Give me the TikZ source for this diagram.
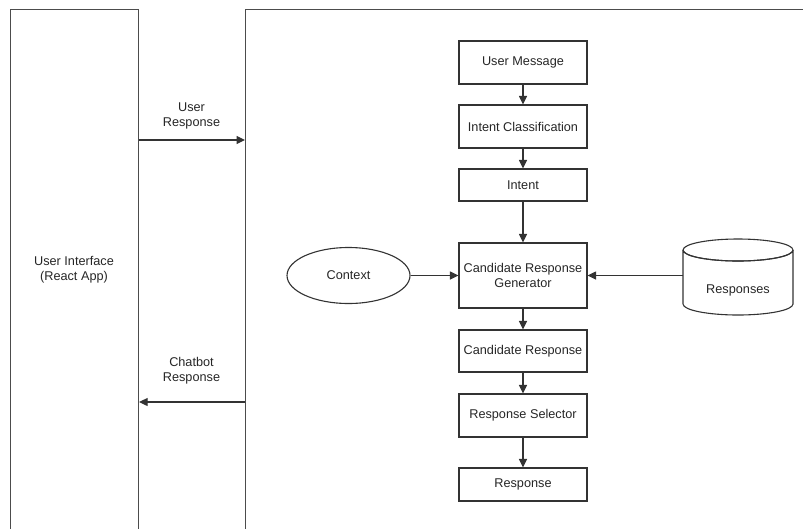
\documentclass[tikz,border=0pt]{standalone}
\usepackage{fontspec}
\setmainfont{Liberation Sans}
\usetikzlibrary{arrows.meta,shapes.geometric}
\begin{document}
\begin{tikzpicture}[x=1pt,y=-1pt,
  line width=1.1pt,
  every node/.style={font=\fontsize{12.7}{15}\selectfont, text=black!85},
  stepbox/.style={draw=black!80, rectangle, minimum width=128pt, inner sep=0pt, align=center},
  frame/.style={draw=black!70, rectangle, inner sep=0pt},
  conn/.style={draw=black!80, -{Triangle[length=8.5pt,width=8pt]}},
  lbl/.style={align=center}]
\useasboundingbox (0,0) rectangle (803,528);
\clip (0,0) rectangle (803,528);
% frames
\node[frame, minimum width=128pt, minimum height=560pt, anchor=north west] (ui) at (10,9) {};
\node[align=center] (uitext) at (74,270) {User Interface\\(React App)};
\node[frame, minimum width=600pt, minimum height=560pt, anchor=north west] (bot) at (245,9) {};
% flow boxes
\node[stepbox, minimum height=43pt] (um) at (523,62.5) {User Message};
\node[stepbox, minimum height=43pt] (ic) at (523,126.5) {Intent Classification};
\node[stepbox, minimum height=32pt] (in) at (523,185) {Intent};
\node[stepbox, minimum height=65pt] (crg) at (523,275.5) {Candidate Response\\Generator};
\node[stepbox, minimum height=42pt] (cr) at (523,351) {Candidate Response};
\node[stepbox, minimum height=43pt] (rs) at (523,415.5) {Response Selector};
\node[stepbox, minimum height=33pt] (re) at (523,484.5) {Response};
% context
\node[draw=black!80, ellipse, minimum width=123pt, minimum height=56pt, inner sep=0pt] (ctx) at (348.5,275.5) {Context};
% cylinder (responses)
\draw[draw=black!80] (683,250) arc[start angle=180, end angle=360, x radius=55pt, y radius=11pt]
  (683,250) -- (683,304) arc[start angle=180, end angle=0, x radius=55pt, y radius=-11pt] -- (793,250);
\draw[draw=black!80] (738,250) ellipse[x radius=55pt, y radius=11pt];
\node (resp) at (738,290) {Responses};
\coordinate (cyl) at (683,275.5);
% arrows
\draw[conn] (um) -- (ic);
\draw[conn] (ic) -- (in);
\draw[conn] (in) -- (crg);
\draw[conn] (crg) -- (cr);
\draw[conn] (cr) -- (rs);
\draw[conn] (rs) -- (re);
\draw[conn] (ctx) -- (crg);
\draw[conn] (cyl) -- (crg);
\draw[conn] (ui.east |- 0,140) -- (bot.west |- 0,140);
\draw[conn] (bot.west |- 0,402) -- (ui.east |- 0,402);
\node[lbl] (ur) at (191.5,116) {User\\Response};
\node[lbl] (cbr) at (191.5,371) {Chatbot\\Response};
\end{tikzpicture}
\end{document}
